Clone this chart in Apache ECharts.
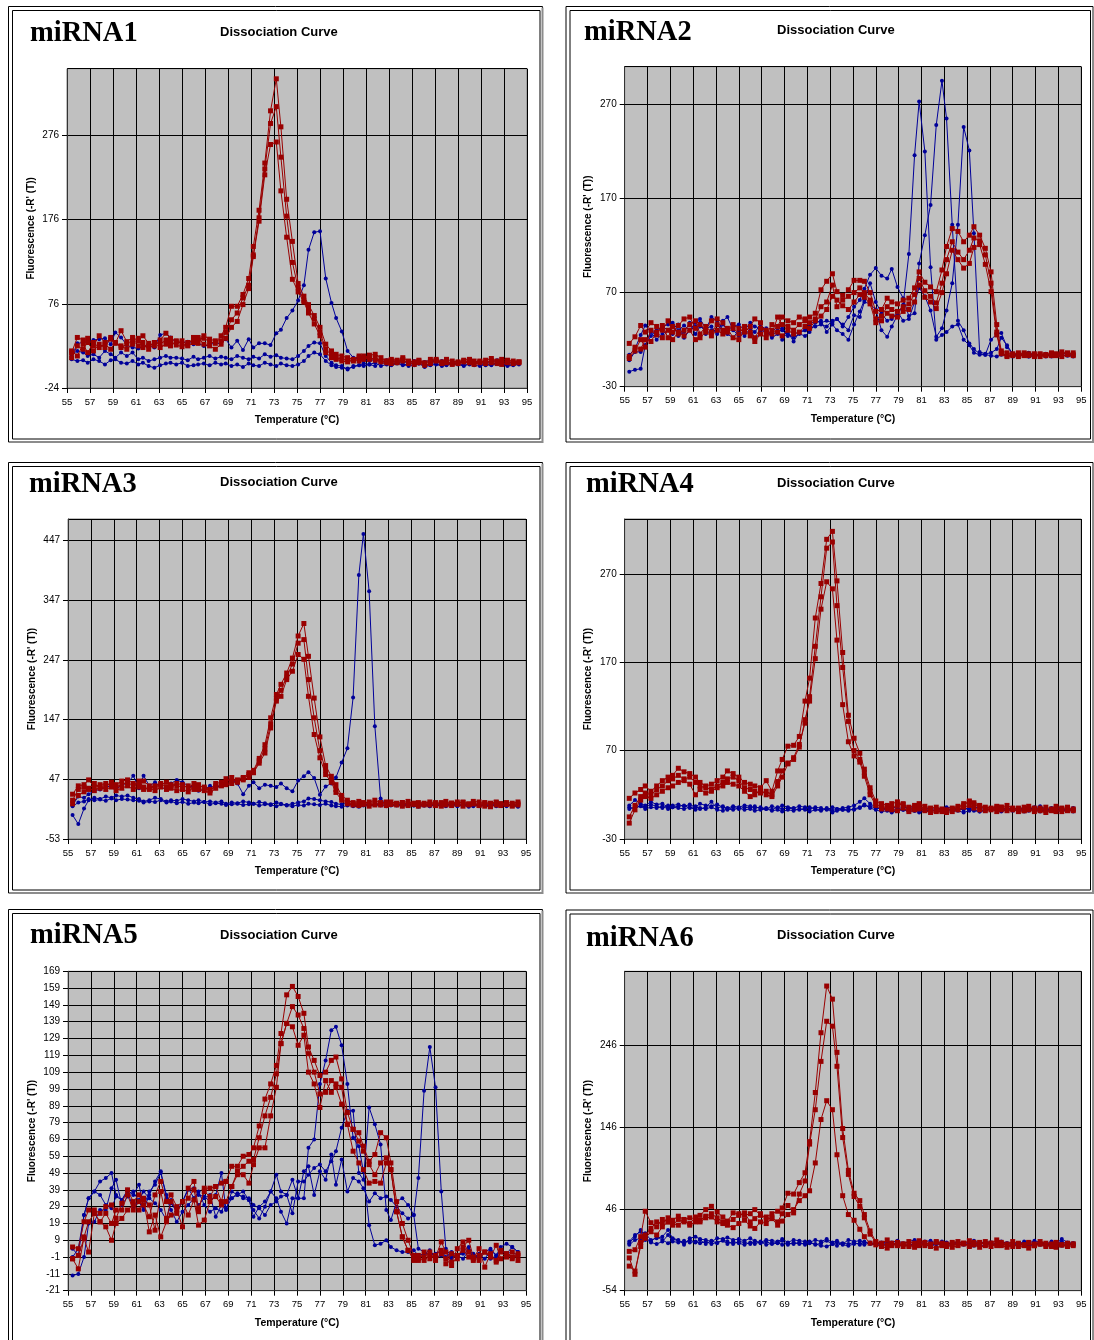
<!DOCTYPE html>
<html>
<head>
<meta charset="utf-8">
<script src="https://cdn.jsdelivr.net/npm/echarts@6/dist/echarts.min.js"></script>
<style>
  html, body { margin: 0; padding: 0; background: #fff; }
  #chart { width: 1094px; height: 1340px; }
</style>
</head>
<body>
<div id="chart"></div>
<script>
// Melt-curve temperatures (°C), one reading per step
const temps = [
  55.4, 55.9, 56.4, 56.8, 57.3, 57.8, 58.3, 58.8, 59.2, 59.7,
  60.2, 60.7, 61.2, 61.6, 62.1, 62.6, 63.1, 63.6, 64.0, 64.5,
  65.0, 65.5, 66.0, 66.4, 66.9, 67.4, 67.9, 68.4, 68.8, 69.3,
  69.8, 70.3, 70.8, 71.2, 71.7, 72.2, 72.7, 73.2, 73.6, 74.1,
  74.6, 75.1, 75.6, 76.0, 76.5, 77.0, 77.5, 78.0, 78.4, 78.9,
  79.4, 79.9, 80.4, 80.8, 81.3, 81.8, 82.3, 82.8, 83.2, 83.7,
  84.2, 84.7, 85.2, 85.6, 86.1, 86.6, 87.1, 87.6, 88.0, 88.5,
  89.0, 89.5, 90.0, 90.4, 90.9, 91.4, 91.9, 92.4, 92.8, 93.3,
  93.8, 94.3
];
const xTicks = [55, 57, 59, 61, 63, 65, 67, 69, 71, 73, 75, 77, 79, 81, 83, 85, 87, 89, 91, 93, 95];

// ---- miRNA1 ----
const m1_yTicks = [-24, 76, 176, 276];
const m1_red_a = [
  18, 36, 33, 35, 26, 38, 30, 34, 29, 44,
  31, 36, 32, 38, 29, 26, 33, 41, 35, 31,
  32, 27, 36, 34, 35, 31, 29, 38, 48, 73,
  73, 87, 106, 144, 187, 243, 305, 343, 286, 200,
  150, 100, 85, 75, 62, 48, 28, 20, 16, 14,
  12, 10, 14, 12, 15, 16, 12, 8, 10, 9,
  12, 8, 7, 9, 6, 10, 9, 7, 10, 8,
  7, 9, 10, 8, 6, 9, 11, 8, 10, 9,
  8, 7
];
const m1_red_b = [
  12, 26, 22, 30, 20, 28, 24, 36, 30, 24,
  28, 33, 26, 30, 22, 30, 28, 33, 30, 27,
  25, 30, 33, 29, 38, 34, 32, 32, 42, 57,
  65, 83, 98, 134, 178, 236, 290, 310, 250, 180,
  125, 95, 80, 70, 58, 42, 22, 15, 12, 10,
  10, 8, 12, 14, 10, 12, 8, 6, 9, 7,
  10, 5, 6, 8, 5, 7, 10, 6, 8, 5,
  6, 8, 7, 5, 8, 6, 9, 7, 6, 8,
  6, 7
];
const m1_red_c = [
  20, 14, 28, 18, 30, 24, 28, 22, 30, 26,
  22, 28, 35, 24, 26, 30, 24, 28, 26, 32,
  28, 26, 30, 36, 28, 26, 22, 28, 35, 48,
  55, 75, 94, 132, 174, 229, 265, 268, 210, 155,
  105, 90, 78, 65, 52, 38, 18, 12, 10, 8,
  7, 9, 8, 10, 12, 9, 7, 8, 5, 6,
  8, 7, 4, 6, 3, 5, 8, 5, 6, 4,
  5, 7, 6, 4, 7, 5, 6, 5, 4, 6,
  5, 6
];
const m1_blue_a = [
  13, 29, 30, 31, 33, 34, 35, 28, 42, 36,
  27, 24, 23, 25, 26, 24, 39, 41, 36, 30,
  30, 31, 28, 29, 26, 27, 30, 28, 34, 24,
  32, 21, 34, 24, 29, 29, 27, 41, 45, 59,
  68, 80, 98, 140, 161, 162, 106, 77, 59, 43,
  20, 12, 10, 9, 8, 10, 7, 9, 8, 6,
  7, 6, 8, 5, 7, 9, 6, 8, 7, 5,
  6, 7, 5, 8, 6, 5, 7, 9, 6, 5,
  7, 6
];
const m1_blue_b = [
  16, 20, 18, 14, 16, 12, 20, 16, 12, 18,
  14, 18, 10, 12, 8, 10, 12, 14, 12, 12,
  11, 9, 13, 10, 12, 14, 11, 13, 12, 10,
  14, 12, 10, 13, 11, 16, 13, 15, 12, 11,
  10, 14, 20, 26, 30, 29, 14, 6, 3, 2,
  -2, 2, 3, 5, 4, 2, 6, 5, 4, 6,
  3, 5, 4, 6, 2, 4, 5, 3, 6, 4,
  5, 3, 4, 6, 5, 3, 4, 6, 5, 3,
  4, 5
];
const m1_blue_c = [
  10, 8, 9, 6, 10, 8, 4, 9, 10, 6,
  5, 8, 4, 6, 2, 0, 3, 5, 6, 4,
  6, 2, 3, 4, 5, 3, 6, 4, 5, 2,
  4, 1, 5, 3, 2, 6, 4, 2, 5, 3,
  2, 4, 8, 14, 18, 16, 8, 3, 1, 0,
  -1, 1, 3, 2, 4, 6, 2, 4, 3, 5,
  4, 2, 3, 5, 1, 3, 4, 2, 3, 5,
  4, 2, 5, 3, 2, 4, 3, 5, 4, 2,
  3, 4
];

// ---- miRNA2 ----
const m2_yTicks = [-30, 70, 170, 270];
const m2_red_a = [
  16, 23, 35, 28, 38, 34, 30, 40, 28, 35,
  42, 44, 32, 36, 30, 40, 42, 38, 30, 36,
  32, 28, 34, 42, 38, 26, 36, 34, 44, 40,
  38, 44, 42, 44, 48, 73, 82, 90, 71, 67,
  73, 83, 83, 82, 70, 50, 52, 64, 60, 58,
  62, 64, 75, 92, 81, 76, 71, 94, 119, 138,
  135, 124, 131, 140, 131, 117, 92, 36, 8, 6,
  5, 4, 6, 5, 3, 5, 4, 6, 5, 7,
  5, 6
];
const m2_red_b = [
  0, 8, 20, 12, 30, 25, 35, 22, 34, 26,
  30, 36, 40, 26, 34, 28, 36, 30, 28, 32,
  26, 34, 28, 22, 32, 30, 26, 44, 36, 34,
  30, 36, 40, 38, 42, 55, 60, 78, 55, 62,
  66, 70, 75, 70, 62, 42, 45, 55, 52, 50,
  55, 58, 68, 85, 72, 66, 59, 80, 105, 124,
  113, 105, 115, 128, 125, 110, 80, 28, 6, 3,
  4, 6, 3, 4, 5, 2, 4, 3, 4, 5,
  6, 4
];
const m2_red_c = [
  2, 12, 10, 20, 18, 28, 22, 30, 20, 28,
  24, 30, 20, 22, 28, 24, 30, 26, 32, 22,
  20, 30, 24, 18, 26, 22, 30, 28, 24, 30,
  26, 28, 34, 32, 40, 45, 52, 66, 62, 56,
  52, 60, 68, 65, 58, 38, 40, 48, 45, 44,
  50, 52, 60, 78, 65, 60, 53, 70, 90, 115,
  105, 96, 101, 118, 121, 100, 71, 25, 5, 2,
  3, 2, 4, 3, 2, 4, 3, 5, 3, 2,
  4, 3
];
const m2_blue_a = [
  -14, -12, -11, 14, 24, 30, 34, 30, 26, 36,
  22, 30, 34, 38, 26, 30, 28, 40, 44, 30,
  24, 28, 34, 20, 28, 32, 24, 30, 20, 28,
  18, 28, 30, 32, 34, 36, 34, 40, 42, 36,
  30, 46, 44, 60, 58, 52, 30, 23, 34, 46,
  57, 111, 216, 273, 220, 97, 20, 25, 28, 34,
  36, 20, 14, 6, 4, 4, 20, 26, 27, 12,
  5, 4, 3, 6, 4, 2, 5, 3, 4, 6,
  5, 4
];
const m2_blue_b = [
  -2, 7, 7, 14, 30, 28, 34, 36, 38, 30,
  35, 30, 38, 42, 32, 34, 26, 36, 30, 34,
  36, 30, 38, 34, 32, 26, 28, 34, 30, 24,
  26, 28, 30, 36, 40, 38, 40, 38, 42, 34,
  44, 55, 62, 74, 89, 96, 88, 85, 95, 76,
  64, 45, 48, 101, 131, 163, 248, 295, 255, 142,
  40, 30, 16, 10, 5, 4, 3, 2, 4, 3,
  2, 4, 3, 2, 5, 3, 4, 2, 3, 4,
  3, 2
];
const m2_blue_c = [
  4, 10, 25, 35, 28, 20, 26, 30, 36, 24,
  28, 38, 26, 34, 30, 44, 40, 30, 26, 22,
  30, 24, 32, 28, 36, 30, 22, 26, 32, 26,
  22, 26, 24, 28, 38, 40, 28, 36, 30, 26,
  20, 36, 50, 62, 80, 60, 48, 40, 42, 50,
  40, 42, 60, 75, 66, 51, 23, 32, 51, 80,
  142, 246, 221, 133, 7, 5, 6, 10, 22, 14,
  5, 3, 4, 2, 3, 5, 2, 4, 3, 2,
  4, 3
];

// ---- miRNA3 ----
const m3_yTicks = [-53, 47, 147, 247, 347, 447];
const m3_red_a = [
  22, 36, 38, 46, 34, 38, 40, 36, 38, 44,
  46, 40, 38, 44, 36, 34, 38, 42, 36, 40,
  38, 32, 40, 36, 34, 30, 40, 42, 48, 44,
  46, 50, 58, 62, 82, 105, 150, 189, 206, 225,
  250, 287, 308, 253, 183, 118, 70, 52, 38, 20,
  12, 8, 10, 7, 9, 12, 8, 6, 9, 7,
  8, 10, 6, 8, 7, 9, 6, 8, 10, 7,
  9, 8, 6, 10, 9, 8, 7, 9, 6, 8,
  7, 9
];
const m3_red_b = [
  12, 30, 34, 30, 40, 32, 36, 42, 34, 38,
  42, 36, 44, 34, 30, 36, 40, 34, 38, 36,
  34, 36, 30, 38, 32, 28, 36, 38, 42, 50,
  42, 48, 55, 60, 78, 98, 140, 182, 196, 218,
  240, 275, 281, 214, 150, 95, 62, 46, 30, 16,
  8, 6, 5, 8, 6, 4, 7, 9, 5, 6,
  8, 5, 7, 6, 5, 4, 8, 6, 5, 7,
  6, 9, 5, 6, 4, 7, 5, 8, 6, 5,
  4, 6
];
const m3_red_c = [
  6, 20, 26, 32, 28, 34, 30, 34, 28, 32,
  36, 30, 34, 30, 32, 28, 34, 30, 32, 28,
  30, 26, 34, 30, 28, 24, 32, 36, 38, 40,
  44, 46, 50, 58, 74, 91, 133, 178, 186, 214,
  228, 256, 248, 186, 122, 83, 55, 42, 25, 12,
  6, 4, 3, 5, 2, 6, 4, 3, 5, 4,
  2, 3, 5, 2, 4, 6, 3, 2, 4, 3,
  5, 2, 4, 6, 3, 2, 1, 4, 3, 5,
  2, 4
];
const m3_blue_a = [
  4, 18, 16, 22, 28, 30, 34, 36, 30, 38,
  40, 53, 32, 53, 36, 42, 34, 30, 40, 46,
  42, 36, 34, 28, 30, 36, 32, 38, 44, 46,
  40, 22, 36, 42, 32, 38, 36, 34, 40, 32,
  27, 45, 52, 59, 49, 21, 35, 40, 50, 75,
  99, 184, 389, 458, 362, 136, 15, 6, 4, 5,
  3, 5, 4, 6, 3, 4, 5, 3, 6, 4,
  5, 3, 4, 6, 4, 3, 5, 4, 3, 5,
  4, 3
];
const m3_blue_b = [
  -13, -28, -2, 12, 16, 14, 18, 16, 20, 18,
  20, 16, 14, 10, 12, 16, 14, 10, 12, 11,
  14, 12, 10, 12, 9, 10, 8, 10, 6, 8,
  7, 10, 8, 6, 9, 7, 5, 8, 6, 4,
  6, 8, 10, 15, 14, 12, 10, 9, 6, 5,
  7, 4, 3, 6, 4, 5, 7, 4, 3, 5,
  4, 6, 3, 5, 4, 2, 5, 3, 4, 6,
  3, 5, 4, 2, 4, 3, 5, 2, 4, 3,
  4, 2
];
const m3_blue_c = [
  2, 8, 10, 14, 12, 13, 11, 15, 12, 14,
  13, 12, 11, 8, 10, 9, 12, 8, 10, 7,
  9, 6, 8, 7, 9, 5, 7, 6, 4, 5,
  6, 4, 5, 6, 3, 5, 4, 2, 5, 3,
  2, 4, 3, 6, 5, 4, 6, 3, 2, 1,
  3, 2, 1, 3, 2, 4, 3, 2, 4, 3,
  2, 4, 3, 1, 3, 2, 4, 3, 2, 3,
  2, 3, 1, 4, 2, 3, 2, 4, 3, 2,
  3, 1
];

// ---- miRNA4 ----
const m4_yTicks = [-30, 70, 170, 270];
const m4_red_a = [
  16, 22, 26, 30, 24, 30, 36, 40, 42, 50,
  46, 44, 40, 34, 30, 32, 36, 40, 47, 44,
  40, 34, 32, 30, 28, 36, 24, 47, 60, 75,
  76, 86, 126, 152, 220, 259, 309, 318, 262, 181,
  110, 84, 67, 49, 28, 13, 10, 8, 10, 12,
  9, 6, 8, 10, 7, 5, 6, 4, 3, 5,
  7, 8, 12, 11, 8, 6, 5, 7, 6, 8,
  5, 4, 6, 7, 5, 3, 6, 4, 7, 5,
  3, 4
];
const m4_red_b = [
  -5, 8, 18, 22, 20, 26, 30, 36, 38, 42,
  38, 40, 34, 30, 28, 26, 30, 34, 38, 40,
  36, 28, 26, 24, 22, 24, 20, 35, 47, 56,
  62, 77, 101, 131, 188, 244, 299, 306, 234, 164,
  103, 70, 60, 45, 24, 10, 6, 6, 5, 8,
  10, 3, 6, 7, 4, 3, 2, 1, 2, 4,
  5, 10, 13, 9, 7, 4, 3, 5, 6, 4,
  3, 5, 2, 4, 3, 5, 2, 3, 1, 4,
  6, 2
];
const m4_red_c = [
  -12, 3, 14, 18, 16, 20, 24, 28, 30, 34,
  36, 32, 20, 26, 22, 24, 28, 30, 34, 32,
  30, 24, 18, 20, 26, 20, 18, 30, 40, 55,
  60, 74, 105, 126, 174, 230, 261, 253, 195, 122,
  80, 64, 57, 41, 20, 8, 4, 4, 3, 2,
  5, 1, 3, 4, 2, 0, 1, 2, 0, 1,
  3, 6, 8, 5, 3, 2, 4, 1, 3, 2,
  4, 1, 2, 3, 1, 2, 0, 2, 3, 1,
  2, 3
];
const m4_blue_a = [
  8, 14, 10, 8, 12, 9, 10, 6, 8, 9,
  7, 9, 6, 10, 8, 7, 9, 6, 5, 7,
  6, 8, 7, 5, 6, 4, 7, 5, 8, 6,
  5, 7, 6, 4, 6, 5, 3, 6, 4, 5,
  6, 8, 12, 16, 10, 6, 4, 5, 7, 4,
  6, 5, 7, 4, 6, 3, 5, 4, 6, 5,
  3, 5, 4, 6, 5, 3, 4, 6, 5, 4,
  5, 3, 6, 4, 5, 7, 4, 3, 5, 4,
  3, 5
];
const m4_blue_b = [
  4, 6, 7, 4, 6, 5, 7, 4, 6, 5,
  4, 6, 3, 5, 4, 6, 3, 2, 4, 3,
  5, 3, 4, 2, 3, 4, 2, 3, 1, 3,
  2, 4, 3, 1, 3, 2, 4, 0, 2, 3,
  2, 4, 6, 9, 5, 3, 1, 2, 0, 2,
  3, 1, 2, 0, 2, 3, 1, 2, 3, 1,
  2, 0, 2, 3, 1, 2, 4, 2, 1, 3,
  2, 3, 1, 2, 4, 1, 3, 2, 1, 2,
  3, 1
];
const m4_blue_c = [
  6, 4, 8, 6, 9, 7, 5, 8, 6, 7,
  8, 5, 7, 4, 6, 12, 5, 7, 3, 6,
  4, 6, 5, 7, 4, 5, 3, 6, 4, 5,
  4, 3, 5, 6, 4, 3, 5, 2, 4, 3,
  4, 3, 5, 8, 7, 5, 4, 3, 2, 4,
  3, 5, 2, 4, 3, 1, 4, 3, 5, 2,
  4, 3, 5, 2, 1, 3, 4, 2, 3, 4,
  3, 2, 4, 3, 6, 2, 3, 5, 2, 3,
  2, 4
];

// ---- miRNA5 ----
const m5_yTicks = [-21, -11, -1, 9, 19, 29, 39, 49, 59, 69, 79, 89, 99, 109, 119, 129, 139, 149, 159, 169];
const m5_red_a = [
  5, 4, 20, 27, 27, 25, 29, 30, 22, 31,
  39, 32, 36, 30, 23, 36, 44, 32, 36, 29,
  32, 34, 39, 26, 40, 40, 41, 43, 44, 53,
  53, 59, 60, 64, 77, 93, 102, 113, 132, 155,
  160, 154, 144, 124, 116, 107, 109, 116, 118, 105,
  85, 75, 73, 65, 56, 60, 73, 70, 55, 32,
  19, 9, 0, -2, -3, 0, -1, 8, 2, -4,
  4, 8, 2, -3, 0, 2, -1, 6, -2, 1,
  -1, 0
];
const m5_red_b = [
  -2, -8, 11, 20, 25, 20, 25, 19, 27, 27,
  36, 27, 32, 34, 30, 15, 38, 22, 32, 27,
  17, 40, 44, 28, 38, 35, 41, 32, 44, 41,
  50, 53, 56, 57, 70, 83, 94, 108, 126, 138,
  148, 143, 135, 120, 109, 96, 97, 104, 102, 100,
  78, 75, 68, 62, 54, 48, 55, 58, 51, 26,
  11, 3, -1, -3, 2, -2, 0, 3, -5, 1,
  -2, 5, 9, -1, -3, 2, 0, -4, 3, 1,
  -2, 1
];
const m5_red_c = [
  -2, 0, 10, 2, 25, 20, 17, 9, 19, 22,
  27, 30, 27, 33, 14, 24, 11, 20, 24, 25,
  32, 24, 33, 18, 21, 32, 35, 30, 32, 41,
  48, 48, 43, 54, 64, 64, 83, 100, 126, 138,
  136, 125, 131, 109, 102, 88, 104, 97, 100, 90,
  78, 62, 55, 51, 43, 44, 43, 55, 51, 26,
  11, 3, -3, 0, -1, 2, -3, 1, -2, -6,
  0, 3, -1, -2, 4, -7, 1, -3, 2, -1,
  2, -3
];
const m5_blue_a = [
  4, 0, 24, 34, 38, 36, 30, 28, 35, 33,
  38, 28, 33, 38, 34, 31, 27, 21, 33, 26,
  32, 40, 34, 38, 30, 26, 28, 26, 32, 34,
  37, 34, 33, 23, 29, 32, 38, 34, 26, 19,
  34, 34, 50, 53, 36, 50, 45, 60, 42, 57,
  38, 46, 44, 40, 32, 37, 34, 35, 33, 29,
  25, 22, 24, 46, 98, 124, 100, 38, 4, -1,
  0, 2, 5, -3, 1, -2, 3, 0, 5, 7,
  5, 2
];
const m5_blue_b = [
  -1, 4, 24, 34, 38, 44, 46, 49, 36, 33,
  39, 36, 42, 29, 38, 42, 49, 36, 31, 26,
  32, 39, 40, 36, 35, 32, 36, 49, 27, 38,
  36, 38, 33, 27, 22, 29, 38, 48, 38, 36,
  45, 34, 34, 64, 69, 102, 116, 134, 136, 125,
  102, 70, 65, 50, 18, 6, 7, 9, 5, 3,
  2, 2, 3, 0, 1, 3, -1, 0, 2, -2,
  0, 1, 3, -1, 0, 2, -2, -1, 3, 1,
  2, 0
];
const m5_blue_c = [
  -12, -11, -1, 19, 20, 27, 27, 40, 45, 30,
  35, 38, 32, 27, 36, 44, 50, 34, 27, 20,
  26, 30, 34, 30, 34, 36, 23, 30, 28, 34,
  36, 35, 34, 30, 28, 24, 30, 32, 35, 36,
  25, 44, 44, 48, 52, 54, 50, 56, 62, 76,
  86, 86, 49, 45, 88, 78, 66, 27, 21, 32,
  34, 30, 24, 4, 2, 0, 1, 3, -1, 2,
  0, -2, 3, 1, -1, 2, 4, 0, 3, 1,
  5, 2
];

// ---- miRNA6 ----
const m6_yTicks = [-54, 46, 146, 246];
const m6_red_a = [
  -6, -4, 12, 43, 29, 24, 33, 30, 32, 37,
  33, 35, 34, 38, 45, 49, 42, 36, 31, 41,
  40, 38, 40, 45, 38, 36, 40, 43, 47, 65,
  64, 78, 90, 128, 188, 261, 318, 302, 237, 144,
  93, 65, 56, 39, 19, 6, 4, 8, 2, 5,
  3, 6, 4, 7, 5, 2, 6, 4, 3, 5,
  6, 4, 7, 5, 3, 6, 4, 8, 5, 3,
  6, 4, 2, 5, 3, 6, 4, 3, 5, 2,
  4, 3
];
const m6_red_b = [
  -14, -34, 5, 14, 22, 30, 28, 35, 26, 33,
  30, 28, 36, 32, 37, 40, 35, 30, 29, 33,
  38, 41, 30, 34, 40, 33, 35, 30, 40, 50,
  41, 64, 80, 125, 167, 226, 275, 269, 220, 133,
  88, 61, 49, 35, 15, 5, 3, 2, 4, 1,
  3, 0, 2, 4, 1, 3, 5, 2, 0, 3,
  2, 4, 1, 3, 5, 2, 4, 1, 3, 2,
  0, 3, 2, 4, 1, 3, 2, 0, 4, 2,
  1, 3
];
const m6_red_c = [
  -24, -30, 0, 10, 18, 14, 24, 30, 28, 26,
  32, 26, 30, 30, 35, 36, 30, 28, 26, 23,
  28, 32, 25, 22, 30, 28, 34, 26, 31, 39,
  45, 56, 62, 68, 102, 155, 178, 167, 112, 62,
  39, 32, 21, 12, 4, 2, 0, -2, 1, 3,
  0, 2, -1, 1, 3, 0, -2, 1, 2, -1,
  1, 3, 0, 2, -1, 1, 0, 3, 1, -1,
  2, 0, 1, -2, 1, 3, 0, 1, -1, 2,
  0, 1
];
const m6_blue_a = [
  6, 14, 18, 16, 8, 10, 12, 20, 10, 8,
  2, 10, 12, 9, 8, 6, 10, 9, 11, 8,
  9, 7, 10, 6, 5, 8, 7, 6, 9, 5,
  8, 7, 6, 5, 8, 6, 9, 5, 7, 3,
  8, 6, 7, 5, 4, 3, 4, 6, 5, 7,
  4, 6, 8, 5, 6, 7, 4, 6, 5, 3,
  6, 4, 5, 7, 4, 6, 5, 3, 6, 4,
  5, 3, 6, 4, 7, 5, 3, 6, 4, 9,
  5, 4
];
const m6_blue_b = [
  2, 8, 10, 12, 5, 3, 6, 14, 6, 5,
  7, 5, 6, 4, 6, 3, 5, 7, 3, 6,
  4, 2, 5, 3, 6, 2, 4, 5, 2, 4,
  3, 5, 2, 4, 3, 1, 0, 3, 5, 2,
  1, 3, 4, 2, 5, 3, 1, 2, 4, 2,
  0, 3, 1, 4, 2, 0, 3, 2, 1, 3,
  2, 4, 1, 3, 0, 2, 4, 1, 3, 2,
  1, 3, 2, 0, 4, 2, 1, 3, 2, 1,
  3, 2
];
const m6_blue_c = [
  4, 12, 20, 8, 6, 12, 8, 4, 9, 7,
  4, 8, 5, 8, 3, 7, 4, 8, 6, 3,
  6, 5, 3, 7, 4, 6, 3, 4, 7, 2,
  5, 3, 4, 6, 2, 4, 7, 3, 1, 4,
  3, 5, 2, 6, 3, 2, 5, 3, 2, 4,
  2, 1, 4, 3, 5, 2, 3, 4, 2, 5,
  3, 2, 4, 1, 3, 5, 2, 3, 1, 4,
  2, 4, 3, 1, 2, 5, 3, 2, 4, 6,
  3, 4
];

const panels = [
  { title: 'miRNA1', red: [m1_red_a, m1_red_b, m1_red_c], blue: [m1_blue_a, m1_blue_b, m1_blue_c], yTicks: m1_yTicks, yMax: 355 },
  { title: 'miRNA2', red: [m2_red_a, m2_red_b, m2_red_c], blue: [m2_blue_a, m2_blue_b, m2_blue_c], yTicks: m2_yTicks, yMax: 310 },
  { title: 'miRNA3', red: [m3_red_a, m3_red_b, m3_red_c], blue: [m3_blue_a, m3_blue_b, m3_blue_c], yTicks: m3_yTicks, yMax: 483 },
  { title: 'miRNA4', red: [m4_red_a, m4_red_b, m4_red_c], blue: [m4_blue_a, m4_blue_b, m4_blue_c], yTicks: m4_yTicks, yMax: 332 },
  { title: 'miRNA5', red: [m5_red_a, m5_red_b, m5_red_c], blue: [m5_blue_a, m5_blue_b, m5_blue_c], yTicks: m5_yTicks, yMax: 169 },
  { title: 'miRNA6', red: [m6_red_a, m6_red_b, m6_red_c], blue: [m6_blue_a, m6_blue_b, m6_blue_c], yTicks: m6_yTicks, yMax: 336 }
];

// Page geometry of each panel: plot box, frame corners, heading anchors
const layout = [
  { grid: [67, 68.7, 460, 319.3],    frame: [8.5, 6.5, 542.5, 442],   head: [30, 19],   sub: [220, 26] },
  { grid: [624.7, 66.7, 456.5, 320], frame: [566, 6.5, 1093, 442],    head: [584, 18],  sub: [777, 24] },
  { grid: [68, 519, 458, 320],       frame: [8.5, 462.5, 542.5, 893], head: [29, 470],  sub: [220, 476] },
  { grid: [624.7, 519, 456.5, 320],  frame: [566, 462.5, 1093, 893],  head: [586, 470], sub: [777, 477] },
  { grid: [68, 971.3, 458, 319.4],   frame: [8.5, 909.5, 542.5, 1380], head: [30, 921], sub: [220, 929] },
  { grid: [624.7, 971.3, 456.5, 319.4], frame: [566, 910, 1093, 1380], head: [586, 924], sub: [777, 929] }
];

const SANS = '"Liberation Sans", Arial, Helvetica, sans-serif';
const SERIF = '"Liberation Serif", "Times New Roman", serif';
const RED = '#990000';
const BLUE = '#000099';

const option = {
  animation: false,
  backgroundColor: '#ffffff',
  title: [], grid: [], xAxis: [], yAxis: [], series: [], graphic: []
};

const pairs = arr => temps.map((t, i) => [t, arr[i]]);
const isTick = (list, v) => list.some(t => Math.abs(t - v) < 1e-6);

panels.forEach((p, k) => {
  const L = layout[k];
  const f = L.frame;

  option.graphic.push(
    { type: 'rect', silent: true, shape: { x: f[0], y: f[1], width: f[2] - f[0], height: f[3] - f[1] },
      style: { fill: 'none', stroke: '#000', lineWidth: 1 } },
    { type: 'polyline', silent: true, shape: { points: [[f[2], f[1] + 1], [f[2], f[3]], [f[0] + 1, f[3]]] },
      style: { fill: 'none', stroke: '#8c8c8c', lineWidth: 2 } },
    { type: 'rect', silent: true, shape: { x: f[0] + 4, y: f[1] + 4, width: f[2] - f[0] - 6.5, height: f[3] - f[1] - 7 },
      style: { fill: 'none', stroke: '#000', lineWidth: 1 } }
  );

  option.title.push(
    { text: p.title, left: L.head[0], top: L.head[1], padding: 0,
      textStyle: { fontFamily: SERIF, fontWeight: 'bold', fontSize: 28.5, color: '#000' } },
    { text: 'Dissociation Curve', left: L.sub[0], top: L.sub[1], padding: 0,
      textStyle: { fontFamily: SANS, fontWeight: 'bold', fontSize: 13, color: '#000' } }
  );

  option.grid.push({
    left: L.grid[0], top: L.grid[1], width: L.grid[2], height: L.grid[3],
    show: true, backgroundColor: '#C0C0C0', borderColor: '#808080', borderWidth: 1,
    containLabel: false, outerBoundsMode: 'none'
  });

  option.xAxis.push({
    type: 'value', gridIndex: k,
    min: xTicks[0], max: xTicks[xTicks.length - 1], interval: xTicks[1] - xTicks[0],
    name: 'Temperature (°C)', nameLocation: 'middle', nameGap: 27,
    nameTextStyle: { fontFamily: SANS, fontWeight: 'bold', fontSize: 10.5, color: '#000' },
    axisLine: { show: true, onZero: false, lineStyle: { color: '#333', width: 1 } },
    axisTick: { show: true, inside: false, length: 5, lineStyle: { color: '#000', width: 1 } },
    axisLabel: { show: true, margin: 9, fontFamily: SANS, fontSize: 9.5, color: '#000',
      formatter: v => (isTick(xTicks, v) ? String(v) : '') },
    splitLine: { show: true, lineStyle: { color: '#000', width: 1 } },
    minorTick: { show: false }, minorSplitLine: { show: false }
  });

  const yt = p.yTicks;
  option.yAxis.push({
    type: 'value', gridIndex: k,
    min: yt[0], max: p.yMax, interval: yt[1] - yt[0],
    name: "Fluorescence (-R' (T))", nameLocation: 'middle', nameGap: 31, nameRotate: 90,
    nameTextStyle: { fontFamily: SANS, fontWeight: 'bold', fontSize: 10, color: '#000' },
    axisLine: { show: true, onZero: false, lineStyle: { color: '#333', width: 1 } },
    axisTick: { show: true, inside: false, length: 5, lineStyle: { color: '#000', width: 1 } },
    axisLabel: { show: true, margin: 8, fontFamily: SANS, fontSize: 10, color: '#000',
      showMaxLabel: isTick(yt, p.yMax),
      formatter: v => (isTick(yt, v) ? String(v) : '') },
    splitLine: { show: true, lineStyle: { color: '#000', width: 1 } }
  });

  p.blue.forEach(arr => option.series.push({
    type: 'line', xAxisIndex: k, yAxisIndex: k, data: pairs(arr),
    symbol: 'circle', symbolSize: 4, showAllSymbol: true, silent: true,
    itemStyle: { color: BLUE }, lineStyle: { color: BLUE, width: 1 }, z: 2
  }));
  p.red.forEach(arr => option.series.push({
    type: 'line', xAxisIndex: k, yAxisIndex: k, data: pairs(arr),
    symbol: 'rect', symbolSize: 5, showAllSymbol: true, silent: true,
    itemStyle: { color: RED }, lineStyle: { color: RED, width: 1 }, z: 3
  }));
});

const chart = echarts.init(document.getElementById('chart'), null, { renderer: 'canvas' });
chart.setOption(option);
</script>
</body>
</html>
